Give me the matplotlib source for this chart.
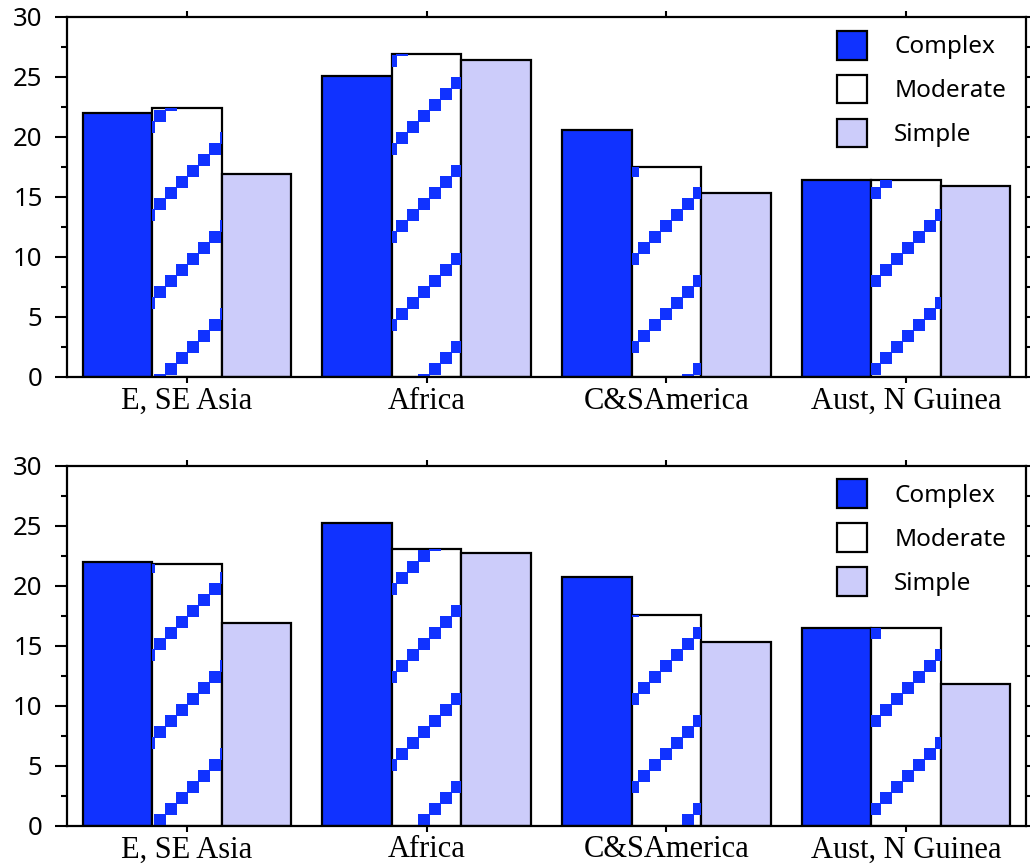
import numpy as np
import matplotlib
matplotlib.use('Agg')
import matplotlib.pyplot as plt
from matplotlib.patches import Rectangle, Patch
from matplotlib.collections import PatchCollection
from matplotlib.ticker import MultipleLocator

regions = ['E, SE Asia', 'Africa', 'C&SAmerica', 'Aust, N Guinea']
series = ['Complex', 'Moderate', 'Simple']

top_complex = [22.0, 25.1, 20.6, 16.4]
top_moderate = [22.4, 26.9, 17.5, 16.4]
top_simple = [16.9, 26.4, 15.3, 15.9]

bot_complex = [22.0, 25.2, 20.7, 16.5]
bot_moderate = [21.8, 23.1, 17.6, 16.5]
bot_simple = [16.9, 22.7, 15.3, 11.8]

blue = '#1032ff'
lilac = '#ccccfa'
sans = 'Noto Sans'
serif = 'Liberation Serif'


def add_pattern(ax, bar):
    # staircase diagonal pattern of blue squares (pixel grid), clipped to the bar
    bb = bar.get_window_extent()
    inv = ax.transData.inverted()
    cell, tile, size = 11, 88, 12
    squares = []
    x = np.floor(bb.x0 / cell) * cell
    while x < bb.x1:
        base = x + 60
        y = base + np.floor((bb.y0 - base) / tile) * tile
        while y < bb.y1:
            (dx0, dy0), (dx1, dy1) = inv.transform([(x, y), (x + size, y + size)])
            squares.append(Rectangle((dx0, dy0), dx1 - dx0, dy1 - dy0))
            y += tile
        x += cell
    pc = PatchCollection(squares, facecolor=blue, edgecolor='none',
                         linewidth=0, zorder=2, antialiased=False)
    ax.add_collection(pc, autolim=False)
    pc.set_clip_path(bar)


def panel(ax, complex_vals, moderate_vals, simple_vals):
    x = np.arange(len(regions))
    w = 0.29
    ax.set_xlim(-0.5, 3.5)
    ax.set_ylim(0, 30)
    ax.bar(x - w, complex_vals, w, color=blue, edgecolor='black', linewidth=1.6, zorder=1)
    mod = ax.bar(x, moderate_vals, w, color='white', edgecolor='black', linewidth=1.6, zorder=1)
    ax.bar(x + w, simple_vals, w, color=lilac, edgecolor='black', linewidth=1.6, zorder=1)
    for b in mod:
        add_pattern(ax, b)

    ax.set_xticks(x)
    ax.set_xticklabels(regions, fontfamily=serif, fontsize=22)
    ax.tick_params(axis='x', which='major', direction='out', length=4, width=1.5,
                   top=True, bottom=True, pad=3)
    ax.set_yticks(range(0, 31, 5))
    ax.yaxis.set_minor_locator(MultipleLocator(2.5))
    ax.tick_params(axis='y', which='major', direction='out', length=8.6, width=1.5,
                   left=True, right=True, labelsize=18.5, pad=9)
    ax.tick_params(axis='y', which='minor', direction='out', length=4.3, width=1.5,
                   left=True, right=True)
    for lbl in ax.get_yticklabels():
        lbl.set_fontfamily(sans)
    for s in ax.spines.values():
        s.set_linewidth(1.6)

    handles = [Patch(facecolor=blue, edgecolor='black', linewidth=1.6),
               Patch(facecolor='white', edgecolor='black', linewidth=1.6),
               Patch(facecolor=lilac, edgecolor='black', linewidth=1.6)]
    ax.legend(handles, series, loc='upper left', bbox_to_anchor=(0.803, 0.962),
              frameon=False, borderpad=0, borderaxespad=0,
              handlelength=1.25, handleheight=1.45, handletextpad=1.1,
              labelspacing=0.62, prop={'family': sans, 'size': 17.5})


fig = plt.figure(figsize=(10.3, 8.64), dpi=100)
ax_top = fig.add_axes([67 / 1030, 487 / 864, 959 / 1030, 360 / 864])
ax_bot = fig.add_axes([67 / 1030, 38.3 / 864, 959 / 1030, 360 / 864])

panel(ax_top, top_complex, top_moderate, top_simple)
panel(ax_bot, bot_complex, bot_moderate, bot_simple)

fig.savefig('out.png', dpi=100)
